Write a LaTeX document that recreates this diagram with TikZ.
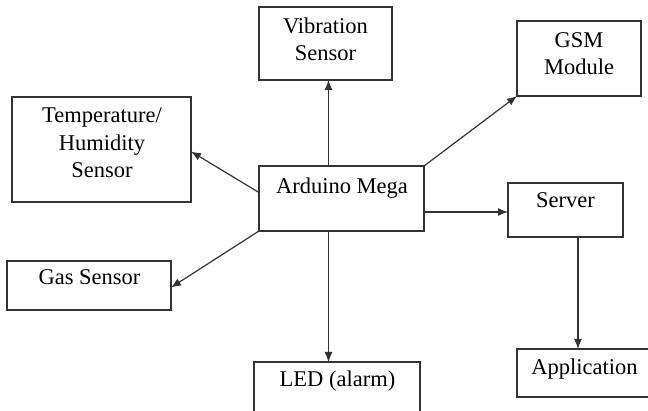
\documentclass[tikz,border=0pt]{standalone}
\usepackage{fontspec}
\setmainfont{Liberation Serif}
\usetikzlibrary{arrows.meta}
\definecolor{linec}{HTML}{333333}
\begin{document}
\begin{tikzpicture}[x=1pt,y=-1pt,
  box/.style={draw=linec, line width=1.2pt, inner sep=0pt, outer sep=0pt, anchor=north west},
  txt/.style={font=\fontsize{22.5}{27.5}\selectfont, align=center, anchor=base, inner sep=0pt, text=black},
  arr/.style={draw=linec, line width=1.2pt, -{Latex[length=10pt,width=8pt]}}]
\useasboundingbox (0,0) rectangle (648,411);
\clip (0,0) rectangle (648,411);
% boxes
\node[box, minimum width=133pt, minimum height=73pt] (vib) at (259,7) {};
\node[box, minimum width=179pt, minimum height=105pt] (tmp) at (12,97) {};
\node[box, minimum width=165pt, minimum height=65pt] (ard) at (259,166) {};
\node[box, minimum width=124pt, minimum height=75pt] (gsm) at (517,21) {};
\node[box, minimum width=115pt, minimum height=54pt] (srv) at (508,183) {};
\node[box, minimum width=164pt, minimum height=49pt] (gas) at (7,261) {};
\node[box, minimum width=166pt, minimum height=70pt] (led) at (254,362) {};
\node[box, minimum width=150pt, minimum height=48pt] (app) at (517,349) {};
% texts (base = baseline of the last line)
\node[txt] (tvib) at (325.5,61) {Vibration\\Sensor};
\node[txt] (ttmp) at (102,178) {Temperature/\\Humidity\\Sensor};
\node[txt] (tard) at (342,194) {Arduino Mega};
\node[txt] (tgsm) at (579,75) {GSM\\Module};
\node[txt] (tsrv) at (565.5,208) {Server};
\node[txt] (tgas) at (89.5,285) {Gas Sensor};
\node[txt] (tled) at (337.5,387) {LED (alarm)};
\node[txt] (tapp) at (584.5,375) {Application};
% helper coordinates
\coordinate (srvin) at ([yshift=-2pt]srv.west);
\coordinate (vibout) at ([xshift=-13pt]ard.north);
\coordinate (ledout) at ([xshift=-13pt]ard.south);
\coordinate (appout) at ([xshift=12.5pt]srv.south);
% arrows
\draw[arr] (vibout) -- (vibout |- vib.south);
\draw[arr] ([yshift=6pt]ard.west) -- ([yshift=-2pt]tmp.east);
\draw[arr] (ard.north east) -- (gsm.south west);
\draw[arr] (ard.east |- srvin) -- (srvin);
\draw[arr] (ard.south west) -- ([yshift=-2pt]gas.east);
\draw[arr] (ledout) -- (ledout |- led.north);
\draw[arr] (appout) -- (appout |- app.north);
\end{tikzpicture}
\end{document}
